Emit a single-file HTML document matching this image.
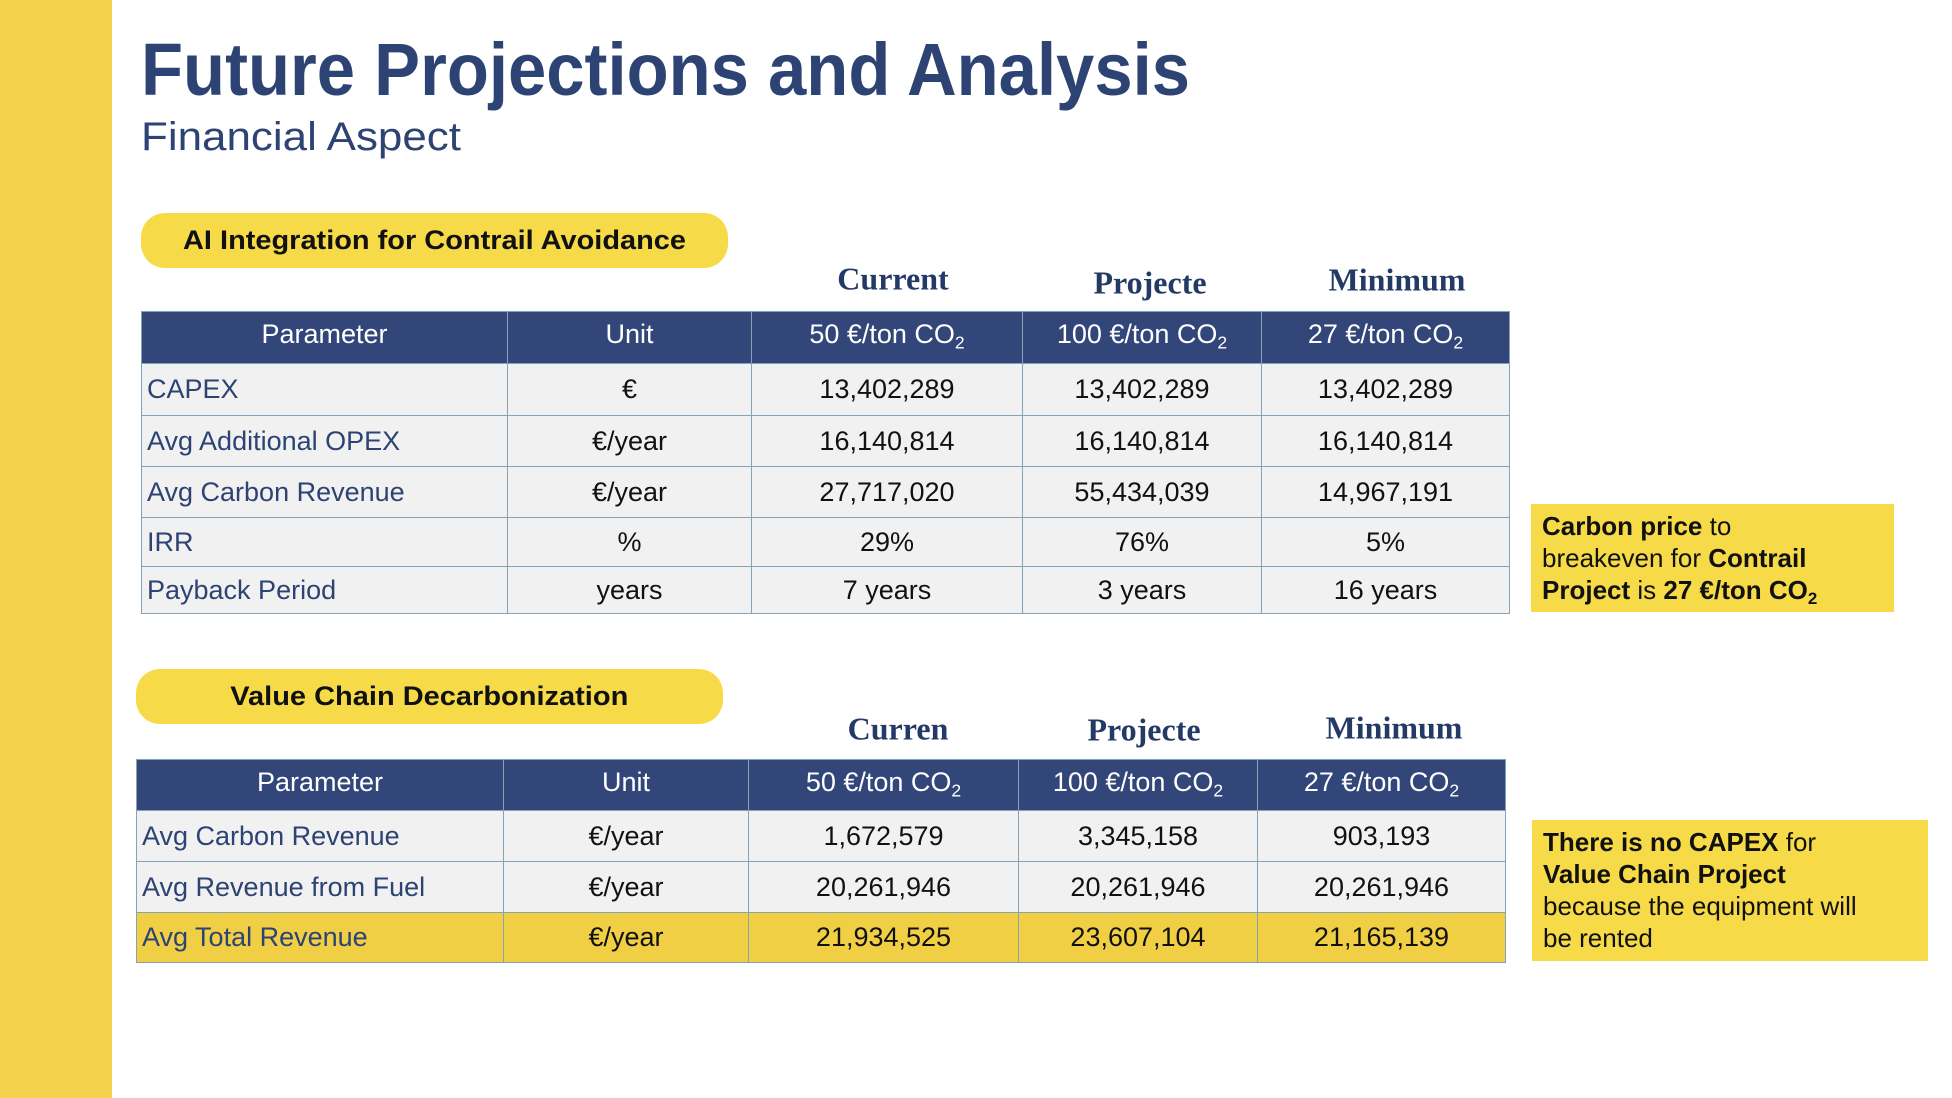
<!DOCTYPE html>
<html><head><meta charset="utf-8">
<style>
html,body{margin:0;padding:0;background:#fff;}
body{width:1952px;height:1098px;position:relative;overflow:hidden;font-family:"Liberation Sans",sans-serif;}
.abs{position:absolute;}
.fit{white-space:nowrap;display:inline-block;transform-origin:0 0;}
.pill .fit{transform-origin:50% 50%;}
#bar{left:0;top:0;width:112px;height:1098px;background:#f2d34b;}
#title{left:141px;top:30px;font-size:74px;font-weight:bold;color:#2c4373;line-height:80px;}
#subtitle{left:141px;top:113px;font-size:40px;color:#2c4373;line-height:48px;}
.pill{background:#f6da48;border-radius:24px;display:flex;align-items:center;justify-content:center;font-weight:bold;font-size:27px;color:#111;}
.colhead{font-family:"Liberation Serif",serif;font-weight:bold;color:#243a66;font-size:32px;transform:translate(-50%,-50%);white-space:nowrap;}
table{position:absolute;border-collapse:collapse;table-layout:fixed;}
td,th{border:1.5px solid #84a3b5;padding:0;font-size:27px;text-align:center;background:#f1f1f1;color:#111;overflow:hidden;white-space:nowrap;}
th{background:#33467a;color:#fff;font-weight:normal;padding-bottom:6px;}
td.p{text-align:left;padding-left:5px;color:#2c4373;}
tr.total td{background:#f0cf44;}
sub{font-size:0.65em;vertical-align:-0.3em;line-height:0;}
.note{background:#f6da48;font-size:26px;line-height:32px;color:#111;padding:6px 0 0 11px;box-sizing:border-box;}
</style></head>
<body>
<div id="bar" class="abs"></div>
<div id="title" class="abs"><span class="fit" data-w="1049">Future Projections and Analysis</span></div>
<div id="subtitle" class="abs"><span class="fit" data-w="320">Financial Aspect</span></div>

<div class="abs pill" style="left:141px;top:213px;width:587px;height:55px;"><span class="fit" data-w="503">AI Integration for Contrail Avoidance</span></div>

<div class="abs colhead" style="left:893px;top:279px;">Current</div>
<div class="abs colhead" style="left:1150px;top:283px;">Projecte</div>
<div class="abs colhead" style="left:1397px;top:280px;">Minimum</div>

<table style="left:141px;top:311px;width:1368px;">
<colgroup><col style="width:366px"><col style="width:244px"><col style="width:271px"><col style="width:239px"><col style="width:248px"></colgroup>
<tr style="height:52px"><th>Parameter</th><th>Unit</th><th>50 €/ton CO<sub>2</sub></th><th>100 €/ton CO<sub>2</sub></th><th>27 €/ton CO<sub>2</sub></th></tr>
<tr style="height:52px"><td class="p">CAPEX</td><td>€</td><td>13,402,289</td><td>13,402,289</td><td>13,402,289</td></tr>
<tr style="height:51px"><td class="p">Avg Additional OPEX</td><td>€/year</td><td>16,140,814</td><td>16,140,814</td><td>16,140,814</td></tr>
<tr style="height:51px"><td class="p">Avg Carbon Revenue</td><td>€/year</td><td>27,717,020</td><td>55,434,039</td><td>14,967,191</td></tr>
<tr style="height:49px"><td class="p">IRR</td><td>%</td><td>29%</td><td>76%</td><td>5%</td></tr>
<tr style="height:47px"><td class="p">Payback Period</td><td>years</td><td>7 years</td><td>3 years</td><td>16 years</td></tr>
</table>

<div class="abs note" style="left:1531px;top:504px;width:363px;height:108px;"><b>Carbon price</b> to<br>breakeven for <b>Contrail<br>Project</b> is <b>27 €/ton CO<sub>2</sub></b></div>

<div class="abs pill" style="left:136px;top:669px;width:587px;height:55px;"><span class="fit" data-w="398">Value Chain Decarbonization</span></div>

<div class="abs colhead" style="left:898px;top:729px;">Curren</div>
<div class="abs colhead" style="left:1144px;top:730px;">Projecte</div>
<div class="abs colhead" style="left:1394px;top:728px;">Minimum</div>

<table style="left:136px;top:759px;width:1369px;">
<colgroup><col style="width:367px"><col style="width:245px"><col style="width:270px"><col style="width:239px"><col style="width:248px"></colgroup>
<tr style="height:51px"><th>Parameter</th><th>Unit</th><th>50 €/ton CO<sub>2</sub></th><th>100 €/ton CO<sub>2</sub></th><th>27 €/ton CO<sub>2</sub></th></tr>
<tr style="height:51px"><td class="p">Avg Carbon Revenue</td><td>€/year</td><td>1,672,579</td><td>3,345,158</td><td>903,193</td></tr>
<tr style="height:51px"><td class="p">Avg Revenue from Fuel</td><td>€/year</td><td>20,261,946</td><td>20,261,946</td><td>20,261,946</td></tr>
<tr class="total" style="height:50px"><td class="p">Avg Total Revenue</td><td>€/year</td><td>21,934,525</td><td>23,607,104</td><td>21,165,139</td></tr>
</table>

<div class="abs note" style="left:1532px;top:820px;width:396px;height:141px;"><b>There is no CAPEX</b> for<br><b>Value Chain Project</b><br>because the equipment will<br>be rented</div>

<script>
document.querySelectorAll('.fit').forEach(function(el){
  var w=parseFloat(el.getAttribute('data-w'));
  var cur=el.getBoundingClientRect().width;
  if(cur>0){el.style.transform='scaleX('+(w/cur)+')';}
});
</script>
</body></html>
